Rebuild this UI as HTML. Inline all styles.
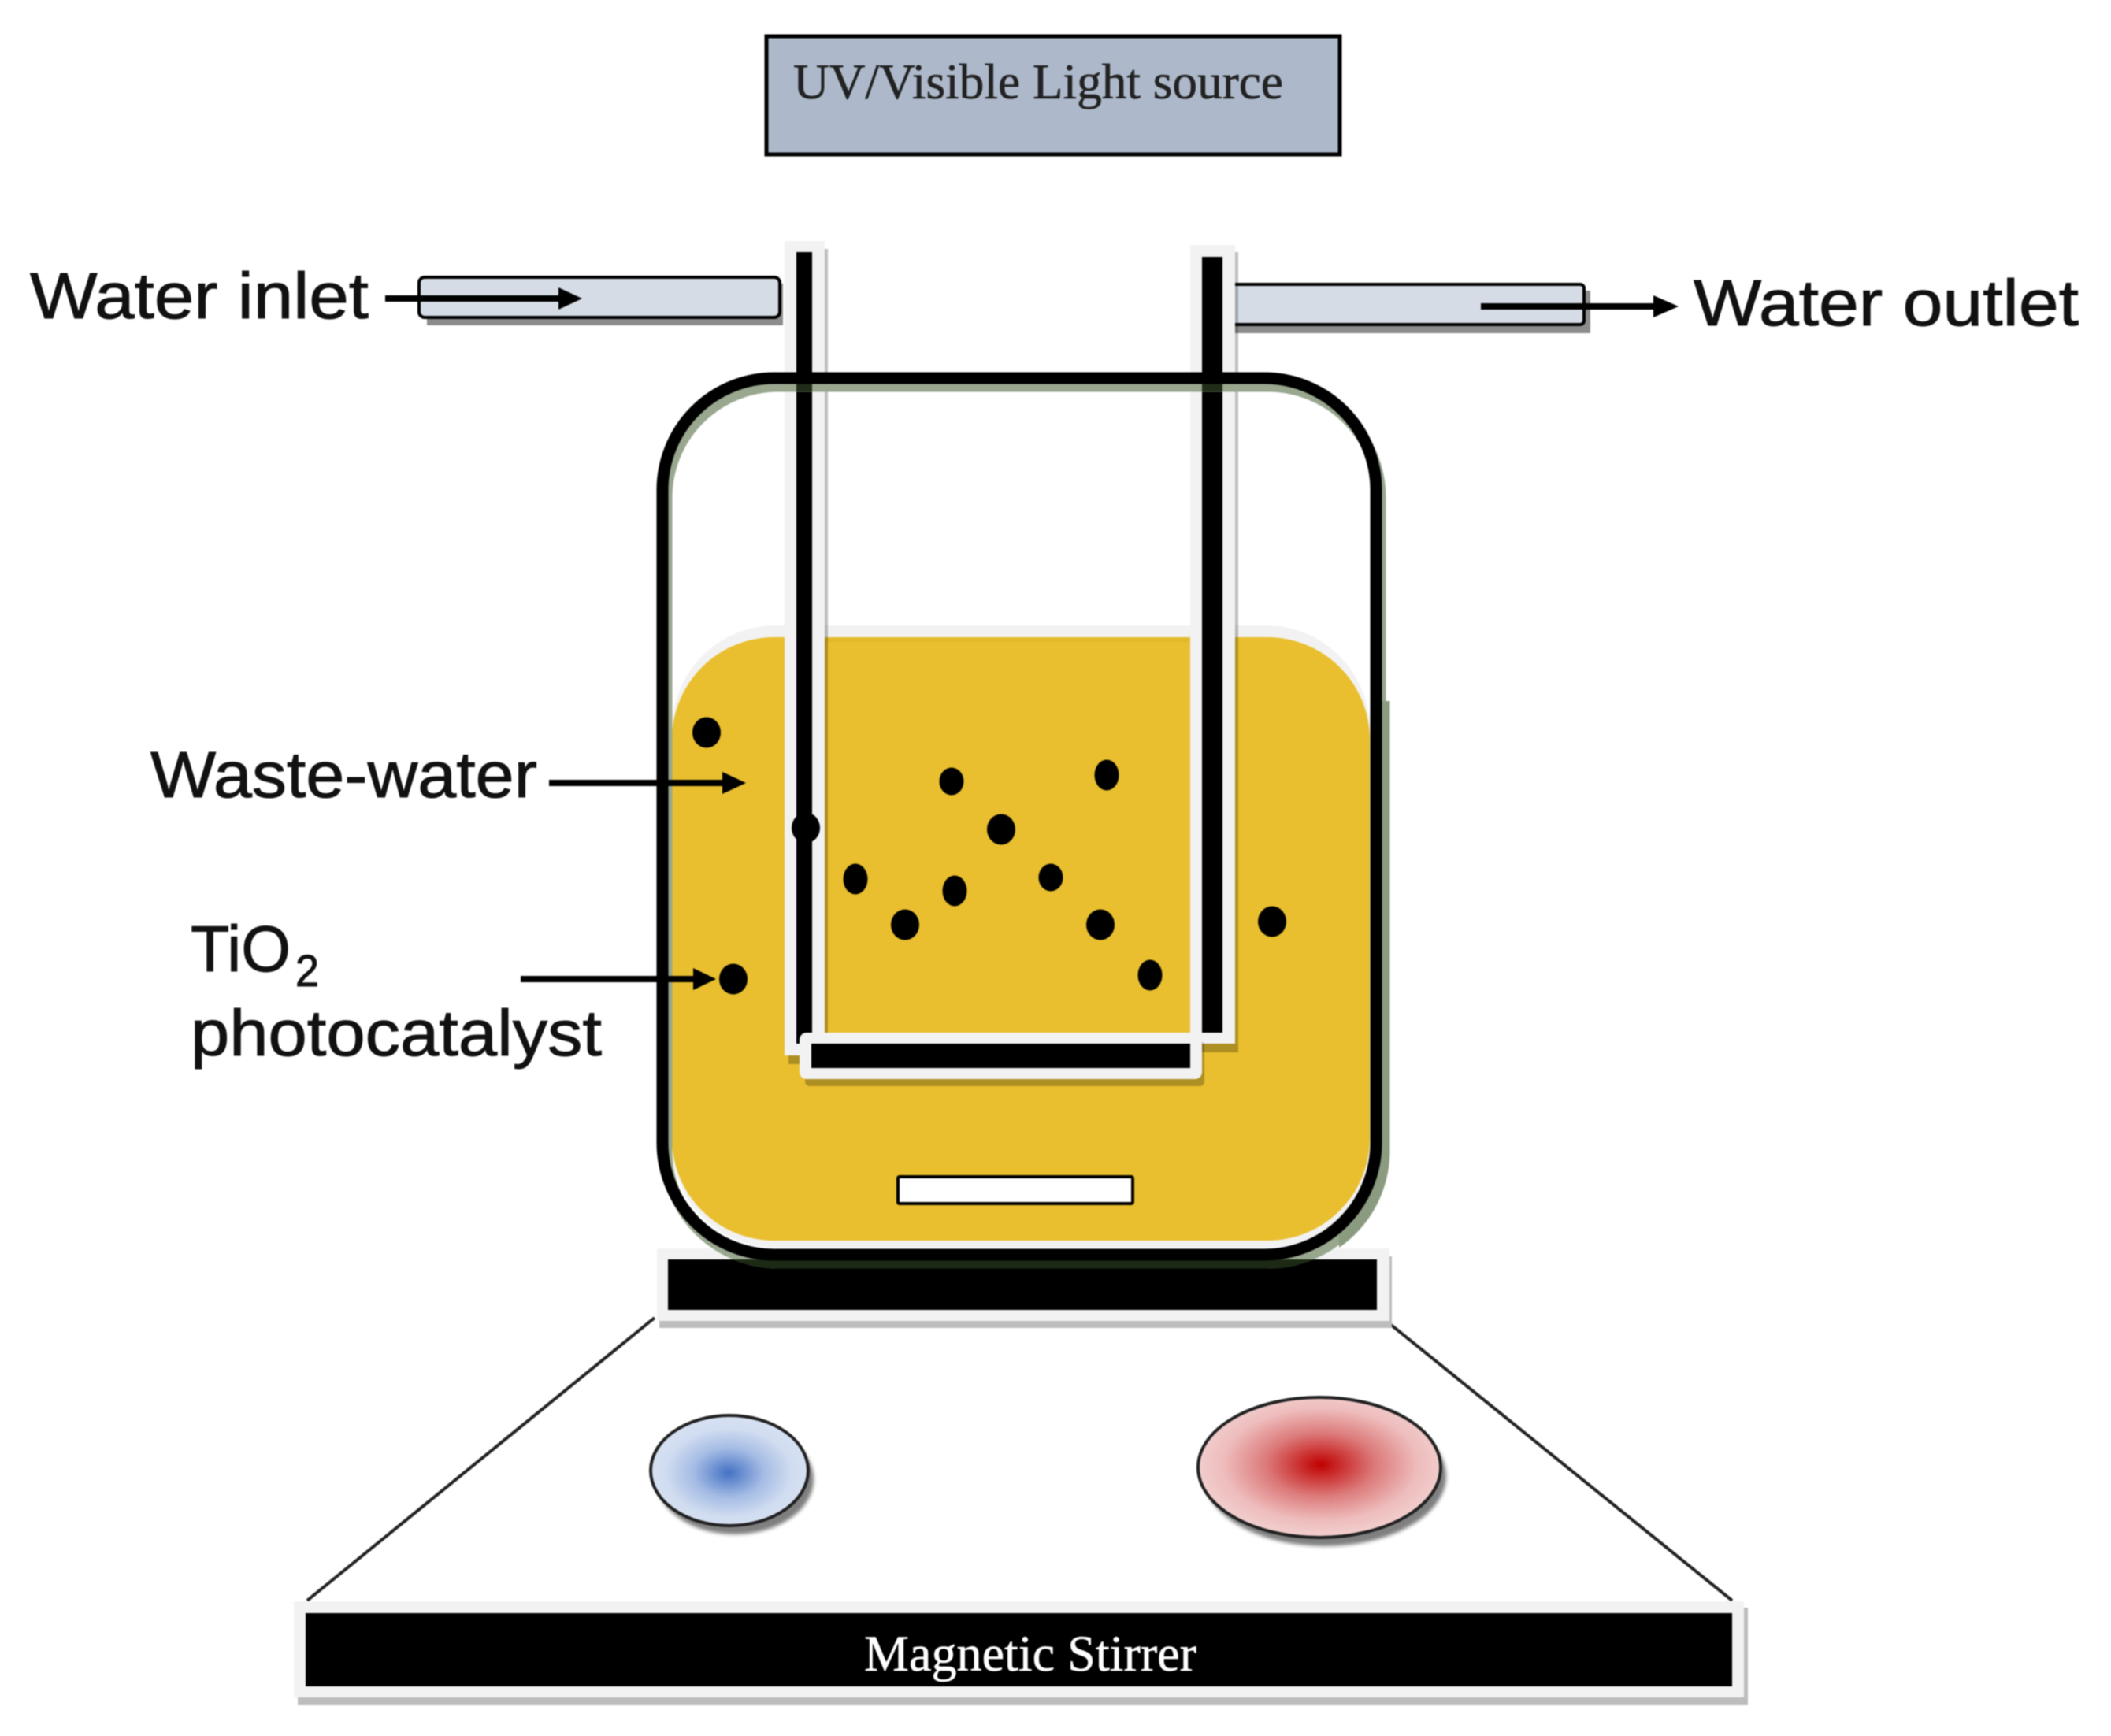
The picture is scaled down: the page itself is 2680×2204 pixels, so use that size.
<!DOCTYPE html>
<html>
<head>
<meta charset="utf-8">
<style>
html,body{margin:0;padding:0;background:#fff;width:2680px;height:2204px;overflow:hidden}
svg{display:block;filter:blur(0.9px)}
.s{font-family:"Liberation Sans",sans-serif;fill:#111;stroke:#111;stroke-width:1}
.t{font-family:"Liberation Serif",serif}
</style>
</head>
<body>
<svg width="2680" height="2204" viewBox="0 0 2680 2204" xmlns="http://www.w3.org/2000/svg">
<defs>
<radialGradient id="b" cx="0.495" cy="0.52" r="0.5"><stop offset="0" stop-color="#4472c4"/><stop offset="0.45" stop-color="#a5bce4"/><stop offset="0.8" stop-color="#d0dcf0"/><stop offset="1" stop-color="#d6e0f2"/></radialGradient>
<radialGradient id="r" cx="0.505" cy="0.48" r="0.5"><stop offset="0" stop-color="#c00000"/><stop offset="0.45" stop-color="#dc7a7a"/><stop offset="0.8" stop-color="#eebcbc"/><stop offset="1" stop-color="#f1cccc"/></radialGradient>
<filter id="sb" x="-10%" y="-10%" width="120%" height="120%"><feGaussianBlur stdDeviation="2.5"/></filter>
<clipPath id="baseClip"><rect x="848" y="1599" width="900" height="64"/></clipPath>
<clipPath id="lowerRight"><rect x="1700" y="890" width="100" height="760"/></clipPath>
</defs>
<rect width="2680" height="2204" fill="#fff"/>

<!-- light source -->
<rect x="973" y="46" width="728" height="150" fill="#adb9ca" stroke="#000" stroke-width="5"/>
<text class="t" x="1007" y="125" font-size="63" fill="#222" stroke="#222" stroke-width="0.6" textLength="622" lengthAdjust="spacingAndGlyphs">UV/Visible Light source</text>

<!-- labels -->
<text class="s" x="38" y="404" font-size="83" textLength="430" lengthAdjust="spacingAndGlyphs">Water inlet</text>
<text class="s" x="2150" y="413" font-size="83" textLength="489" lengthAdjust="spacingAndGlyphs">Water outlet</text>
<text class="s" x="191" y="1012" font-size="83" textLength="491" lengthAdjust="spacingAndGlyphs">Waste-water</text>
<text class="s" x="242" y="1233" font-size="83" textLength="127" lengthAdjust="spacingAndGlyphs">TiO</text>
<text class="s" x="375" y="1252" font-size="57" textLength="30" lengthAdjust="spacingAndGlyphs">2</text>
<text class="s" x="242" y="1340" font-size="83" textLength="522" lengthAdjust="spacingAndGlyphs">photocatalyst</text>

<!-- inlet / outlet pipes -->
<rect x="542" y="360" width="452" height="53" fill="#8c8c8c"/>
<rect x="532" y="352" width="458" height="51" rx="7" fill="#d5dce6" stroke="#000" stroke-width="4"/>
<rect x="1560" y="369" width="459" height="54" fill="#8c8c8c"/>
<rect x="1555" y="361" width="456" height="51" rx="5" fill="#d5dce6" stroke="#000" stroke-width="4"/>

<!-- connector lines to base -->
<line x1="831" y1="1673" x2="390" y2="2032" stroke="#222" stroke-width="4"/>
<line x1="1761" y1="1678" x2="2199" y2="2032" stroke="#222" stroke-width="4"/>

<!-- top base -->
<rect x="837" y="1595" width="930" height="91" fill="#bdbdbd"/>
<rect x="834" y="1585" width="930" height="92" fill="#f2f2f2"/>
<rect x="848" y="1599" width="900" height="64" fill="#000"/>

<!-- bottom base -->
<rect x="378" y="2041" width="1841" height="124" fill="#bdbdbd"/>
<rect x="373" y="2033" width="1841" height="122" fill="#f2f2f2"/>
<rect x="388" y="2048" width="1811" height="93" fill="#000"/>
<text class="t" x="1097" y="2121" font-size="65" fill="#fff" stroke="#fff" stroke-width="0.6" textLength="422" lengthAdjust="spacingAndGlyphs">Magnetic Stirrer</text>

<!-- liquid -->
<rect x="853" y="794" width="886" height="790" rx="132" fill="#f2f2f2"/>
<rect x="853" y="809" width="886" height="766" rx="130" fill="#e9bf2f"/>
<rect x="1050" y="809" width="461" height="6" fill="#e3b92c"/>

<!-- tube left -->
<rect x="1001" y="316" width="50" height="1035" fill="#000" opacity=".25"/>
<rect x="996" y="306" width="51" height="1034" fill="#f2f2f2"/>
<rect x="1011" y="320" width="20" height="1005" fill="#000"/>
<!-- tube right -->
<rect x="1516" y="320" width="56" height="1016" fill="#000" opacity=".25"/>
<rect x="1511" y="311" width="57" height="1014" fill="#f2f2f2"/>
<rect x="1526" y="326" width="26" height="985" fill="#000"/>
<!-- tube bottom -->
<rect x="1022" y="1322" width="507" height="57" rx="6" fill="#000" opacity=".25"/>
<rect x="1015" y="1311" width="511" height="59" rx="9" fill="#f2f2f2"/>
<rect x="1030" y="1325" width="481" height="31" fill="#000"/>

<!-- jar shadow -->
<rect x="846" y="490" width="906" height="1113" rx="142" fill="none" stroke="#98a78e" stroke-width="15"/>
<rect x="851" y="490" width="906" height="1113" rx="142" fill="none" stroke="#8a9b80" stroke-width="15" clip-path="url(#lowerRight)"/>
<rect x="846" y="490" width="906" height="1113" rx="142" fill="none" stroke="#1c2a14" stroke-width="15" clip-path="url(#baseClip)"/>
<rect x="1011" y="487" width="20" height="10" fill="#1f2c18"/>
<rect x="1526" y="487" width="26" height="10" fill="#1f2c18"/>
<!-- jar -->
<rect x="841" y="480" width="906" height="1113" rx="142" fill="none" stroke="#000" stroke-width="15"/>

<!-- stir bar -->
<rect x="1140" y="1494" width="298" height="34" rx="2" fill="#fff" stroke="#000" stroke-width="4"/>

<!-- particles -->
<g fill="#000">
<ellipse cx="897" cy="930" rx="18" ry="19.5"/>
<ellipse cx="931" cy="1243" rx="18" ry="19.5"/>
<ellipse cx="1023" cy="1051" rx="18" ry="19.5"/>
<ellipse cx="1086" cy="1116" rx="15.5" ry="19.5"/>
<ellipse cx="1149" cy="1174" rx="18" ry="19.5"/>
<ellipse cx="1212" cy="1131" rx="15.5" ry="19.5"/>
<ellipse cx="1208" cy="992" rx="15.5" ry="17.5"/>
<ellipse cx="1271" cy="1053" rx="18" ry="19.5"/>
<ellipse cx="1334" cy="1114" rx="15.5" ry="17.5"/>
<ellipse cx="1405" cy="984" rx="15.5" ry="19.5"/>
<ellipse cx="1397" cy="1174" rx="18" ry="19.5"/>
<ellipse cx="1460" cy="1238" rx="15.5" ry="19.5"/>
<ellipse cx="1615" cy="1170" rx="18" ry="19.5"/>
</g>

<!-- arrows -->
<g fill="#000">
<rect x="489" y="375" width="225" height="8"/><polygon points="709,365 739,379 709,393"/>
<rect x="1880" y="385" width="225" height="8"/><polygon points="2099,375 2131,389 2099,403"/>
<rect x="697" y="990" width="225" height="8"/><polygon points="917,980 947,994 917,1008"/>
<rect x="661" y="1239" width="224" height="8"/><polygon points="880,1229 909,1243 880,1257"/>
</g>

<!-- knobs -->
<ellipse cx="933" cy="1878" rx="100" ry="70" fill="#7f7f7f" filter="url(#sb)"/>
<ellipse cx="926" cy="1867" rx="100" ry="70" fill="url(#b)" stroke="#222" stroke-width="4"/>
<ellipse cx="1682" cy="1874" rx="154" ry="89" fill="#7f7f7f" filter="url(#sb)"/>
<ellipse cx="1675" cy="1863" rx="154" ry="89" fill="url(#r)" stroke="#222" stroke-width="4"/>
</svg>
</body>
</html>
